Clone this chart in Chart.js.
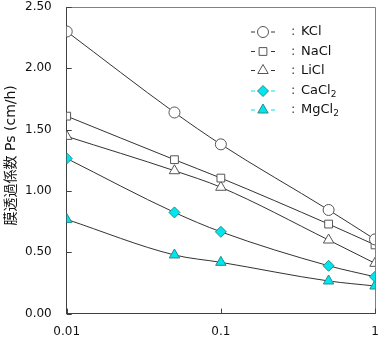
<!DOCTYPE html>
<html><head><meta charset="utf-8">
<script src="https://cdn.jsdelivr.net/npm/chart.js@4"></script>
<style>html,body{margin:0;padding:0;background:#fff}#wrap{width:385px;height:362px;position:relative}</style>
</head><body><div id="wrap"><canvas id="c"></canvas></div>
<script>
// ---- data ----
const concentrations = [0.01, 0.05, 0.1, 0.5, 1];
const seriesNames = ['KCl', 'NaCl', 'LiCl', 'CaCl2', 'MgCl2'];
const kclValues   = [2.30, 1.64, 1.38, 0.845, 0.605];
const naclValues  = [1.61, 1.255, 1.105, 0.73, 0.56];
const liclValues  = [1.445, 1.165, 1.03, 0.60, 0.41];
const cacl2Values = [1.265, 0.825, 0.667, 0.39, 0.30];
const mgcl2Values = [0.768, 0.478, 0.418, 0.266, 0.225];
const xTickValues = [0.01, 0.1, 1];
const yAxisTitle = '膜透過係数 Ps (cm/h)';

const CYAN = '#00E5EE';
const styles = [
  {pointStyle:'circle',   bg:'#ffffff', border:'#555555', r:5.5, legendColor:'#333333'},
  {pointStyle:'rect',     bg:'#ffffff', border:'#555555', r:5.5, legendColor:'#333333'},
  {pointStyle:'triangle', bg:'#ffffff', border:'#555555', r:6,   legendColor:'#333333'},
  {pointStyle:'rectRot',  bg:CYAN,      border:'#2a8a8a', r:5.5, legendColor:CYAN},
  {pointStyle:'triangle', bg:CYAN,      border:'#2a8a8a', r:6,   legendColor:CYAN}
];
const allValues = [kclValues, naclValues, liclValues, cacl2Values, mgcl2Values];

const datasets = allValues.map((vals, i) => ({
  label: seriesNames[i],
  data: concentrations.map((c, j) => ({x: c, y: vals[j]})),
  borderColor: '#333333',
  borderWidth: 1,
  cubicInterpolationMode: 'monotone',
  pointStyle: styles[i].pointStyle,
  pointRadius: styles[i].r,
  pointBackgroundColor: styles[i].bg,
  pointBorderColor: styles[i].border,
  pointBorderWidth: 1,
  fill: false
}));

const frameAndTicks = {
  id: 'frameAndTicks',
  beforeDatasetsDraw(chart) {
    const {ctx, chartArea: a, scales} = chart;
    ctx.save();
    ctx.lineWidth = 1;
    ctx.strokeStyle = '#808080';
    ctx.beginPath();
    ctx.moveTo(a.left, a.top + 0.5); ctx.lineTo(a.right + 0.5, a.top + 0.5);
    ctx.lineTo(a.right + 0.5, a.bottom);
    ctx.stroke();
    ctx.strokeStyle = '#404040';
    ctx.beginPath();
    scales.y.ticks.forEach(t => {
      const y = Math.round(scales.y.getPixelForValue(t.value)) + 0.5;
      ctx.moveTo(a.left, y); ctx.lineTo(a.left + 5, y);
    });
    scales.x.ticks.forEach(t => {
      const x = Math.round(scales.x.getPixelForValue(t.value)) + 0.5;
      ctx.moveTo(x, a.bottom); ctx.lineTo(x, a.bottom - 5);
    });
    ctx.stroke();
    // y axis title
    ctx.fillStyle = '#111111';
    ctx.font = '14px "DejaVu Sans", "Noto Sans CJK JP", sans-serif';
    ctx.textAlign = 'center';
    ctx.textBaseline = 'middle';
    ctx.translate(11, (a.top + a.bottom) / 2 - 5);
    ctx.rotate(-Math.PI / 2);
    ctx.fillText(yAxisTitle, 0, 0);
    ctx.restore();
  }
};

const customLegend = {
  id: 'customLegend',
  afterDraw(chart) {
    const {ctx, chartArea: a} = chart;
    const x0 = a.right - 124;
    const rowYs = [25, 44.5, 63.5, 84, 103];
    ctx.save();
    seriesNames.forEach((name, i) => {
      const y = a.top + rowYs[i];
      const st = styles[i];
      ctx.strokeStyle = st.legendColor;
      ctx.lineWidth = 1;
      ctx.beginPath();
      ctx.moveTo(x0, y); ctx.lineTo(x0 + 4, y);
      ctx.moveTo(x0 + 20, y); ctx.lineTo(x0 + 24, y);
      ctx.stroke();
      ctx.fillStyle = st.bg; ctx.strokeStyle = st.border;
      Chart.helpers.drawPoint(ctx, {pointStyle: st.pointStyle, radius: st.r, borderWidth: 1}, x0 + 12, y);
      ctx.fillStyle = '#444444';
      ctx.font = '13px "DejaVu Sans", sans-serif';
      ctx.textBaseline = 'middle';
      ctx.fillText(':', x0 + 40, y);
      ctx.fillStyle = '#111111';
      const m = name.match(/^(.*?)(\d)$/);
      if (m) {
        ctx.fillText(m[1], x0 + 50, y);
        const w = ctx.measureText(m[1]).width;
        ctx.font = '9px "DejaVu Sans", sans-serif';
        ctx.fillText(m[2], x0 + 50 + w, y + 4);
      } else {
        ctx.fillText(name, x0 + 50, y);
      }
    });
    ctx.restore();
  }
};

new Chart(document.getElementById('c'), {
  type: 'line',
  data: {datasets},
  options: {
    responsive: true,
    maintainAspectRatio: false,
    animation: false,
    layout: {padding: {left: 10, right: 10, top: 5, bottom: 12}},
    plugins: {legend: {display: false}, tooltip: {enabled: false}},
    scales: {
      x: {
        type: 'logarithmic',
        min: 0.01, max: 1,
        afterBuildTicks(axis) { axis.ticks = xTickValues.map(v => ({value: v})); },
        afterFit(scale) { scale.paddingLeft = 0; scale.paddingRight = 0; },
        ticks: {
          callback: v => String(v),
          color: '#111111',
          font: {family: '"DejaVu Sans", sans-serif', size: 12},
          padding: 11,
          maxRotation: 0, autoSkip: false
        },
        grid: {display: true, drawOnChartArea: false, drawTicks: false},
        border: {color: '#404040', width: 1}
      },
      y: {
        type: 'linear',
        min: 0, max: 2.5,
        ticks: {
          stepSize: 0.5,
          callback: v => v.toFixed(2),
          color: '#111111',
          font: {family: '"DejaVu Sans", sans-serif', size: 12},
          padding: 15
        },
        afterFit(scale) { scale.paddingTop = 0; scale.paddingBottom = 0; },
        grid: {display: true, drawOnChartArea: false, drawTicks: false},
        border: {color: '#404040', width: 1}
      }
    }
  },
  plugins: [frameAndTicks, customLegend]
});
</script>
</body></html>
